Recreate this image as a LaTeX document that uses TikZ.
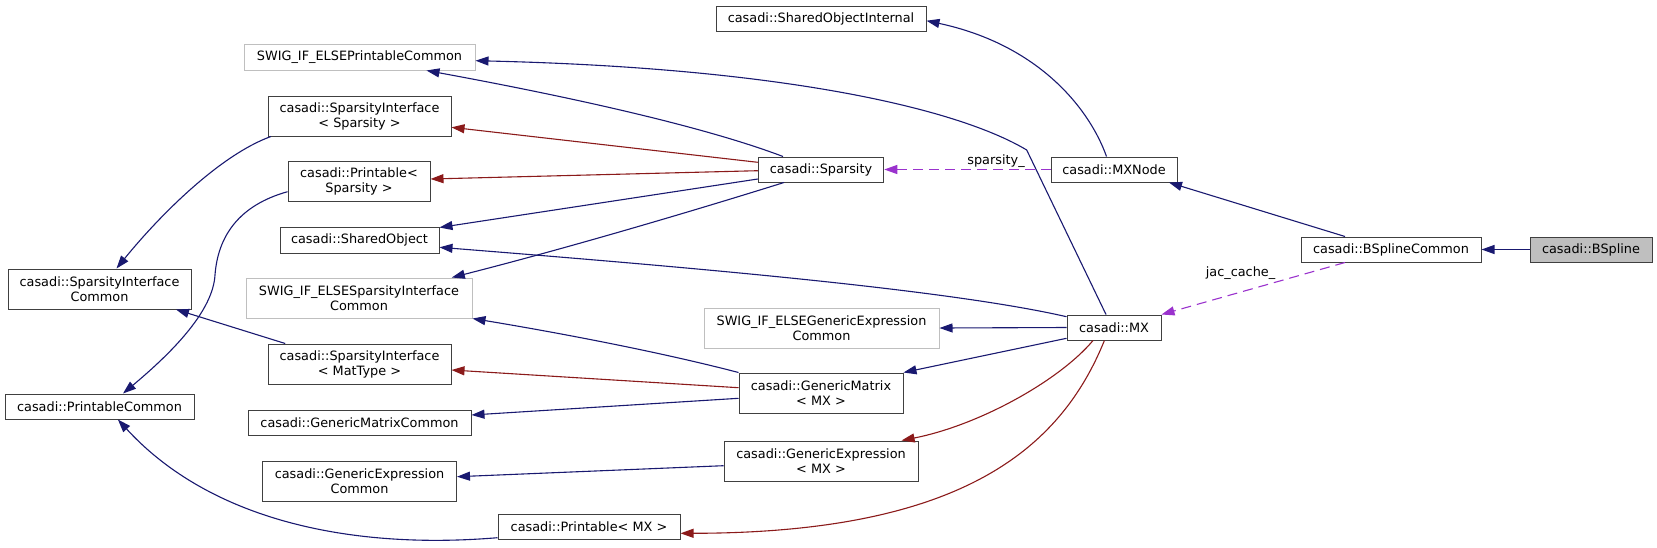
\documentclass[tikz,border=0pt]{standalone}
\usepackage{fontspec}
\setmainfont{DejaVu Sans}
\usetikzlibrary{arrows.meta,calc}
\definecolor{inhblue}{HTML}{191970}
\definecolor{tplred}{HTML}{8B1A1A}
\definecolor{usepurple}{HTML}{9A32CD}
\definecolor{nodegray}{HTML}{BFBFBF}
\definecolor{bordergray}{HTML}{404040}
\begin{document}
\begin{tikzpicture}[x=1pt,y=-1pt,
  box/.style={draw=bordergray, line width=1pt, fill=white, inner sep=0pt, align=center, font=\fontsize{12.85}{15}\selectfont},
  gbox/.style={box, draw=nodegray},
  inh/.style={draw=inhblue, line width=1.1pt, -{Triangle[length=13pt,width=9pt]}},
  tpl/.style={inh, draw=tplred},
  use/.style={draw=usepurple, line width=1.1pt, dash pattern=on 10pt off 6pt, -{Triangle[length=13pt,width=9pt]}},
  lbl/.style={inner sep=0pt, font=\fontsize{12.85}{15}\selectfont}
]
\useasboundingbox (0,0) rectangle (1657,547);

% nodes
\node[box, minimum width=210, minimum height=25] (soi) at (821,18.5) {casadi::SharedObjectInternal};
\node[gbox, minimum width=231, minimum height=26] (swigpc) at (359.5,57) {SWIG\_IF\_ELSEPrintableCommon};
\node[box, minimum width=183, minimum height=40] (sisp) at (359.5,116) {casadi::SparsityInterface\\< Sparsity >};
\node[box, minimum width=142, minimum height=40] (prsp) at (359,181) {casadi::Printable<\\ Sparsity >};
\node[box, minimum width=159, minimum height=26] (so) at (359.5,240) {casadi::SharedObject};
\node[box, minimum width=183, minimum height=40] (sic) at (99.5,289) {casadi::SparsityInterface\\Common};
\node[gbox, minimum width=226, minimum height=40] (swigsic) at (359,298) {SWIG\_IF\_ELSESparsityInterface\\Common};
\node[box, minimum width=183, minimum height=40] (simt) at (359.5,364) {casadi::SparsityInterface\\< MatType >};
\node[box, minimum width=189, minimum height=25] (pc) at (99.5,406.5) {casadi::PrintableCommon};
\node[box, minimum width=223, minimum height=25] (gmc) at (359.5,422.5) {casadi::GenericMatrixCommon};
\node[box, minimum width=194, minimum height=40] (gec) at (359.5,481) {casadi::GenericExpression\\Common};
\node[box, minimum width=182, minimum height=25] (prmx) at (589,526.5) {casadi::Printable< MX >};
\node[box, minimum width=125.5, minimum height=25] (sp) at (821,169.5) {casadi::Sparsity};
\node[gbox, minimum width=235, minimum height=40] (swiggec) at (821.5,328) {SWIG\_IF\_ELSEGenericExpression\\Common};
\node[box, minimum width=164, minimum height=40] (gmmx) at (821,393) {casadi::GenericMatrix\\< MX >};
\node[box, minimum width=194, minimum height=40] (gemx) at (821,461) {casadi::GenericExpression\\< MX >};
\node[box, minimum width=126, minimum height=25] (mxnode) at (1114,169.5) {casadi::MXNode};
\node[box, minimum width=94, minimum height=25] (mx) at (1114,327.5) {casadi::MX};
\node[box, minimum width=180, minimum height=25] (bsc) at (1391,249.5) {casadi::BSplineCommon};
\node[box, fill=nodegray, minimum width=122, minimum height=25] (bsp) at (1591,249.5) {casadi::BSpline};

% labels
\node[lbl] (jaclbl) at (1240.5,272.7) {jac\_cache\_};
\node[lbl] (splbl) at (996,161) {sparsity\_};

% edges
\draw[inh] ([xshift=-7.5]mxnode.north) .. controls (1090,110) and (1040,45) .. ([yshift=-2.2]soi.east);
\draw[inh] ([xshift=-46]bsc.north) -- ([xshift=55]mxnode.south);
\draw[inh] (bsp.west) -- (bsc.east);
\draw[use] ([xshift=-46]bsc.south) -- (mx.north east);
\draw[use] (mxnode.west) -- (sp.east);
\draw[inh] ([xshift=-8]mx.north) -- (1026.7,150) .. controls (960,110) and (790,68) .. ([yshift=-3.7]swigpc.east);
\draw[inh] ([xshift=-38]sp.north) .. controls (700,125) and (560,95) .. ([xshift=67]swigpc.south);
\draw[tpl] ([yshift=7.2]sp.west) -- ([yshift=-11.3]sisp.east);
\draw[tpl] ([yshift=-1.2]sp.west) -- ([yshift=2]prsp.east);
\draw[inh] ([yshift=-9.5]sp.west) -- ([yshift=12.5]so.east);
\draw[inh] ([yshift=10.8]mx.west) .. controls (950,290) and (700,268) .. ([yshift=-7.3]so.east);
\draw[inh] ([xshift=-37]sp.south) .. controls (680,215) and (560,250) .. ([xshift=92.8]swigsic.north);
\draw[inh] (mx.west) -- (swiggec.east);
\draw[inh] ([yshift=-10.8]mx.west) -- (gmmx.north east);
\draw[tpl] ([xshift=-21]mx.south) .. controls (1060,380) and (980,425) .. ([xshift=80.6]gemx.north);
\draw[tpl] ([xshift=-9.6]mx.south) .. controls (1060,450) and (960,533) .. ([yshift=-6.8]prmx.east);
\draw[inh] (gmmx.north west) .. controls (660,352) and (560,333) .. (swigsic.south east);
\draw[tpl] ([yshift=5.3]gmmx.west) -- ([yshift=-6]simt.east);
\draw[inh] ([yshift=-5.3]gmmx.west) -- ([yshift=7.5]gmc.east);
\draw[inh] ([yshift=-4.7]gemx.west) -- ([yshift=4.3]gec.east);
\draw[inh] ([xshift=3.4]sisp.south west) .. controls (220,155) and (160,215) .. ([xshift=17]sic.north);
\draw[inh] ([xshift=17.7]simt.north west) -- ([xshift=76.5]sic.south);
\draw[inh] ([yshift=-10.7]prsp.west) .. controls (240,205) and (218,235) .. (215,275) .. controls (213,310) and (175,350) .. ([xshift=23.5]pc.north);
\draw[inh] ([yshift=-11.2]prmx.west) .. controls (350,550) and (210,520) .. ([xshift=18.4]pc.south);
\end{tikzpicture}
\end{document}
